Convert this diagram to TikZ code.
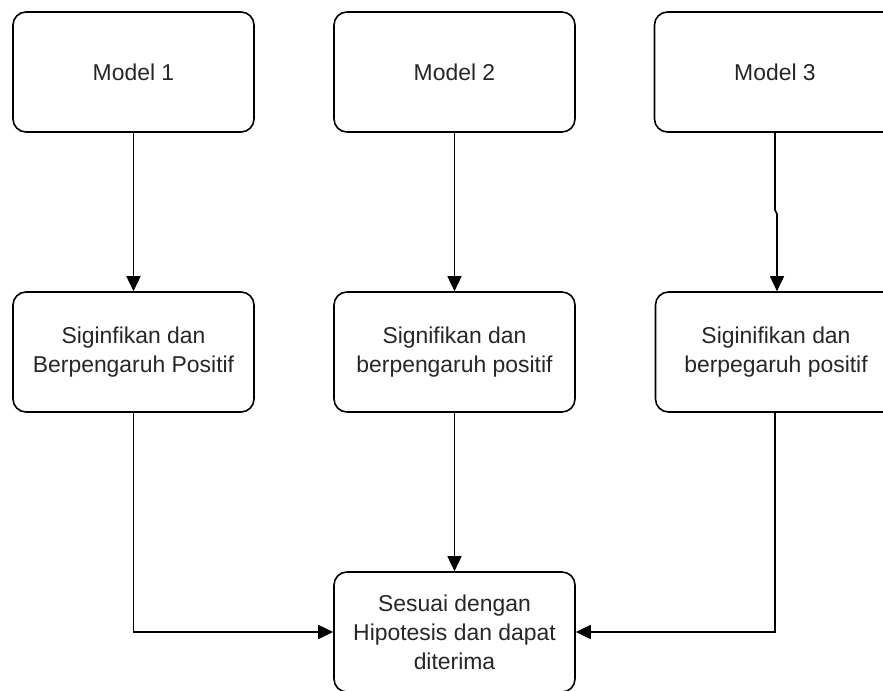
\documentclass[tikz,border=0pt]{standalone}
\usepackage{fontspec}
\setmainfont{Liberation Sans}
\usetikzlibrary{arrows.meta}
\begin{document}
\begin{tikzpicture}[x=1bp,y=-1bp,
  box/.style={draw, line width=1.6bp, rounded corners=13bp, minimum width=241bp, minimum height=120bp,
    align=center, inner sep=0pt, font=\fontsize{23}{29}\selectfont, text=black!85},
  conn/.style={draw, line width=1.6bp, -{Triangle[length=15bp,width=14bp]}}]
\useasboundingbox (0,0) rectangle (883,691);
\clip (0,0) rectangle (883,691);
\fill[white] (0,0) rectangle (883,691);
\node[box] (m1) at (133.5,72) {Model 1};
\node[box] (m2) at (454.5,72) {Model 2};
\node[box] (m3) at (775,72) {Model 3};
\node[box] (r1) at (133.5,352) {Siginfikan dan\\Berpengaruh Positif};
\node[box] (r2) at (454.5,352) {Signifikan dan\\berpengaruh positif};
\node[box] (r3) at (776,352) {Siginifikan dan\\berpegaruh positif};
\node[box] (h) at (454.5,632) {Sesuai dengan\\Hipotesis dan dapat\\diterima};
\coordinate (j1) at (775,210);
\coordinate (j2) at (777,214);
\draw[conn] (m1) -- (r1);
\draw[conn] (m2) -- (r2);
\draw[conn] (m3.south) -- (j1) -- (j2) -- (j2 |- r3.north);
\draw[conn] (r2) -- (h);
\draw[conn] (r1.south) |- (h.west);
\draw[conn] (r3.south -| m3) |- (h.east);
\end{tikzpicture}
\end{document}
